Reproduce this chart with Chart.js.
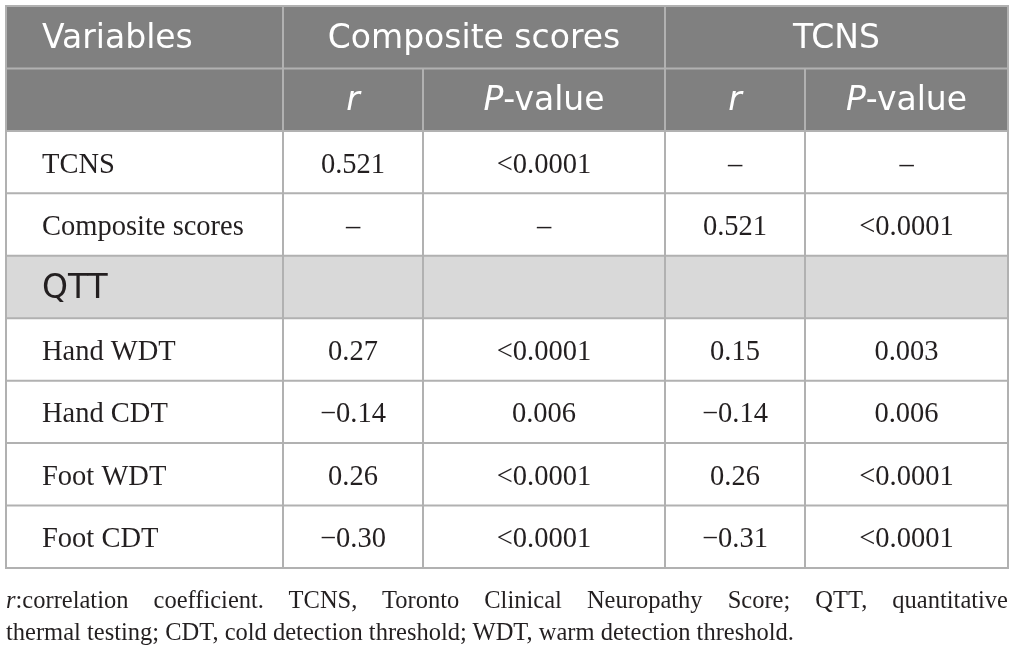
<!DOCTYPE html>
<html>
<head>
<meta charset="utf-8">
<script src="https://cdn.jsdelivr.net/npm/chart.js@4.4.1/dist/chart.umd.min.js"></script>
<style>
  body { margin: 0; background: #fff; }
  #wrap { position: relative; width: 1013px; height: 658px; }
  .note {
    position: absolute; left: 6px; width: 1002px;
    font-family: "Liberation Serif", serif; font-size: 24.5px; line-height: 30px; color: #231f20;
    white-space: nowrap;
  }
  #note1 { top: 585px; text-align: justify; text-align-last: justify; white-space: normal; }
  #note2 { top: 617px; }
</style>
</head>
<body>
<div id="wrap">
  <canvas id="table"></canvas>
  <div class="note" id="note1"><i>r</i>:correlation coefficient. TCNS, Toronto Clinical Neuropathy Score; QTT, quantitative</div>
  <div class="note" id="note2">thermal testing; CDT, cold detection threshold; WDT, warm detection threshold.</div>
</div>
<script>
// ===== DATA =====
const groupHeaders = ["Composite scores", "TCNS"];
const rowLabels = ["TCNS", "Composite scores", "QTT", "Hand WDT", "Hand CDT", "Foot WDT", "Foot CDT"];
const compR = ["0.521", "\u2013", "", "0.27", "\u22120.14", "0.26", "\u22120.30"];
const compP = ["<0.0001", "\u2013", "", "<0.0001", "0.006", "<0.0001", "<0.0001"];
const tcnsR = ["\u2013", "0.521", "", "0.15", "\u22120.14", "0.26", "\u22120.31"];
const tcnsP = ["\u2013", "<0.0001", "", "0.003", "0.006", "<0.0001", "<0.0001"];
const sectionRows = ["QTT"]; // shaded sub-heading rows

// ===== LAYOUT =====
const colEdges = [0, 277, 417, 659, 799, 1002]; // x-scale units
const rowKeys = ["head1", "head2"].concat(rowLabels);

const headDark = "#808080";
const sectionGray = "#d9d9d9";
const lineColor = "#b1b1b1";
const textColor = "#231f20";
const sans = '"DejaVu Sans", sans-serif';
const serif = '"Liberation Serif", serif';

function drawSubHeader(ctx, cx, cy) {
    // "P-value" with italic P
    ctx.font = "italic 33px " + sans;
    let w1 = ctx.measureText("P").width;
    ctx.font = "33px " + sans;
    let w2 = ctx.measureText("-value").width;
    let start = cx - (w1 + w2) / 2;
    ctx.textAlign = "left";
    ctx.font = "italic 33px " + sans;
    ctx.fillText("P", start, cy);
    ctx.font = "33px " + sans;
    ctx.fillText("-value", start + w1, cy);
}

const tablePlugin = {
    id: "tablePlugin",
    afterDraw(chart) {
        const { ctx, scales: { x, y } } = chart;
        const band = y.getPixelForValue(1) - y.getPixelForValue(0);
        const top = i => y.getPixelForValue(i) - band / 2;
        const colX = colEdges.map(v => x.getPixelForValue(v));
        const mid = (a, b) => (colX[a] + colX[b]) / 2;

        ctx.save();
        // backgrounds
        ctx.fillStyle = headDark;
        ctx.fillRect(colX[0], top(0), colX[5] - colX[0], band * 2);
        rowLabels.forEach((lab, i) => {
            if (sectionRows.includes(lab)) {
                ctx.fillStyle = sectionGray;
                ctx.fillRect(colX[0], top(i + 2), colX[5] - colX[0], band);
            }
        });

        // header text
        ctx.textBaseline = "middle";
        ctx.fillStyle = "#ffffff";
        let cy0 = y.getPixelForValue(0) + 2;
        ctx.font = "33px " + sans;
        ctx.textAlign = "left";
        ctx.fillText("Variables", colX[0] + 36, cy0);
        ctx.textAlign = "center";
        ctx.fillText(groupHeaders[0], mid(1, 3), cy0);
        ctx.fillText(groupHeaders[1], mid(3, 5), cy0);

        let cy1 = y.getPixelForValue(1) + 2;
        ctx.font = "italic 33px " + sans;
        ctx.fillText("r", mid(1, 2), cy1);
        ctx.fillText("r", mid(3, 4), cy1);
        drawSubHeader(ctx, mid(2, 3), cy1);
        drawSubHeader(ctx, mid(4, 5), cy1);

        // body
        ctx.fillStyle = textColor;
        rowLabels.forEach((lab, i) => {
            let cy = y.getPixelForValue(i + 2);
            if (sectionRows.includes(lab)) {
                ctx.font = "33px " + sans;
                ctx.textAlign = "left";
                ctx.fillText(lab, colX[0] + 36, cy + 2);
                return;
            }
            cy += 3;
            ctx.font = "28.5px " + serif;
            ctx.textAlign = "left";
            ctx.fillText(lab, colX[0] + 36, cy);
            ctx.textAlign = "center";
            ctx.fillText(compR[i], mid(1, 2), cy);
            ctx.fillText(compP[i], mid(2, 3), cy);
            ctx.fillText(tcnsR[i], mid(3, 4), cy);
            ctx.fillText(tcnsP[i], mid(4, 5), cy);
        });

        // grid lines
        ctx.strokeStyle = lineColor;
        ctx.lineWidth = 2;
        ctx.beginPath();
        for (let i = 0; i <= rowKeys.length; i++) {
            let yy = top(i);
            ctx.moveTo(colX[0] - 1, yy);
            ctx.lineTo(colX[5] + 1, yy);
        }
        colEdges.forEach((v, c) => {
            let startRow = (c === 2 || c === 4) ? 1 : 0; // spanned group headers
            ctx.moveTo(colX[c], top(startRow));
            ctx.lineTo(colX[c], top(rowKeys.length));
        });
        ctx.stroke();
        ctx.restore();
    }
};

new Chart(document.getElementById("table"), {
    type: "scatter",
    data: { datasets: [{ data: [] }] },
    options: {
        responsive: true,
        maintainAspectRatio: false,
        animation: false,
        layout: { padding: { top: 6, left: 6, right: 5, bottom: 90 } },
        plugins: { legend: { display: false }, tooltip: { enabled: false } },
        scales: {
            x: { type: "linear", min: 0, max: 1002, display: false },
            y: { type: "category", labels: rowKeys, offset: true, display: false, grid: { offset: true } }
        }
    },
    plugins: [tablePlugin]
});
</script>
</body>
</html>
